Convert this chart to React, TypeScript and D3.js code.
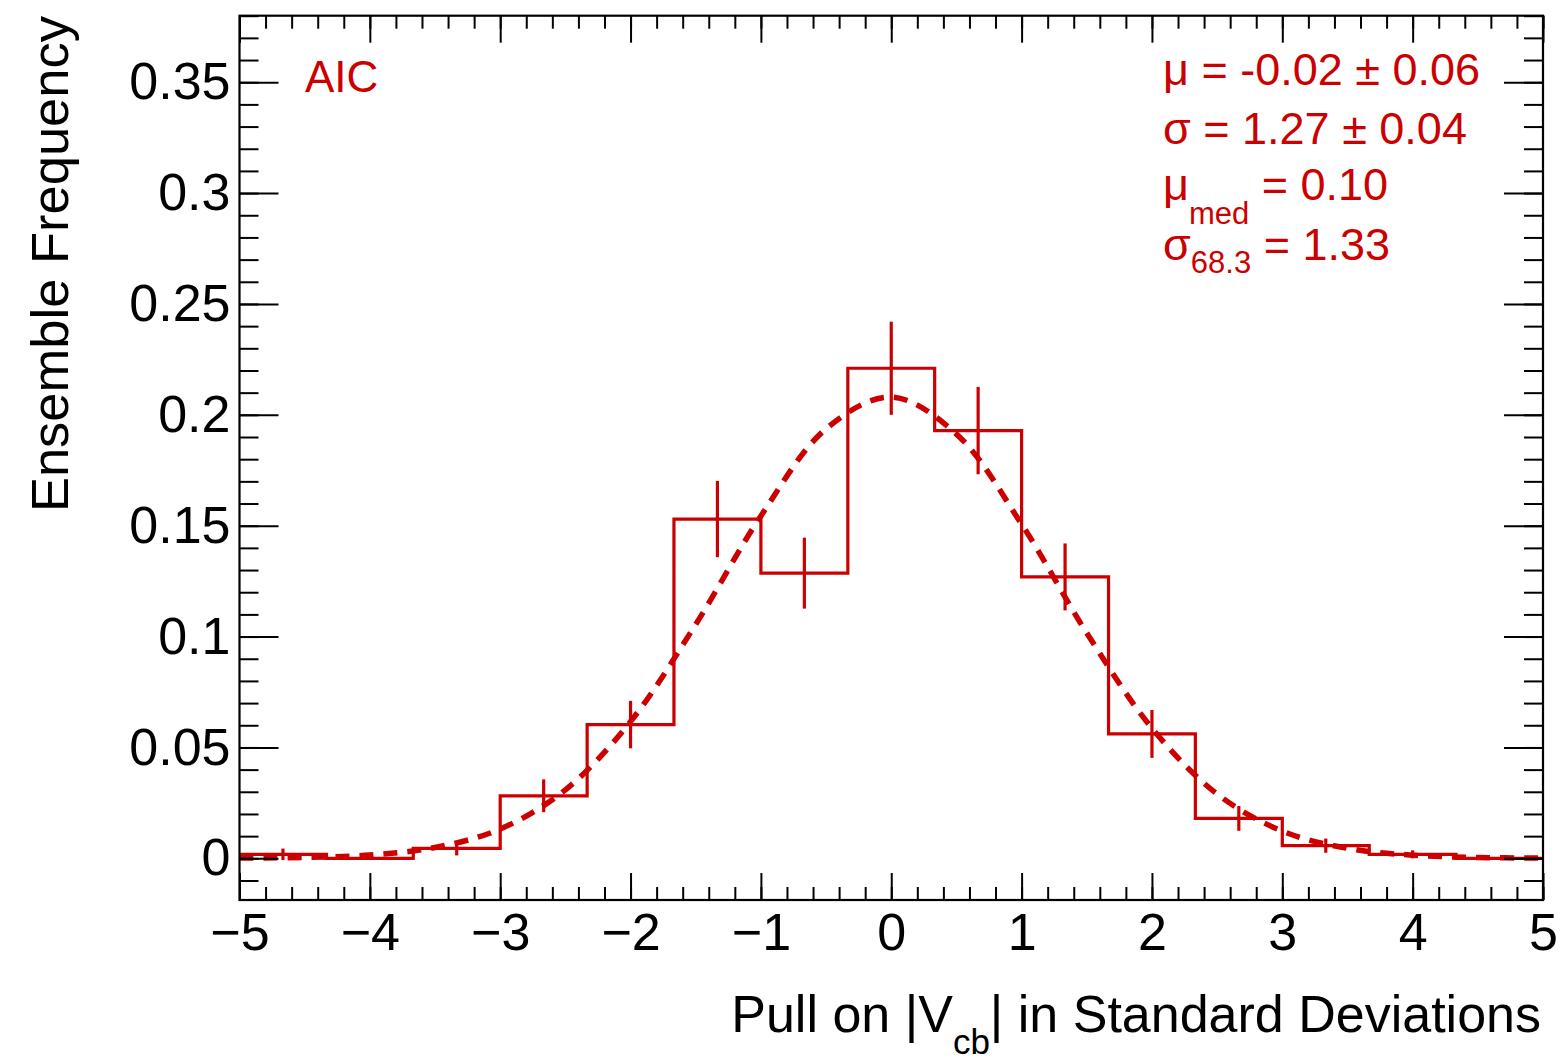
// App.tsx
import React, { useEffect, useRef } from 'react';
import * as d3 from 'd3';

// Histogram bins (pull in standard deviations)
const binEdges = [-5, -4.333, -3.667, -3, -2.333, -1.667, -1, -0.333, 0.333, 1, 1.667, 2.333, 3, 3.667, 4.333, 5];
const binValues = [0.0018, 0, 0.0045, 0.0282, 0.0603, 0.153, 0.1286, 0.221, 0.1929, 0.1269, 0.0561, 0.018, 0.0057, 0.0018, 0];
const binErrors = [0.0026, 0, 0.0032, 0.0074, 0.0107, 0.0172, 0.016, 0.021, 0.0197, 0.0151, 0.0108, 0.0056, 0.0032, 0.0018, 0];

// Gaussian fit curve
const fitX = [-5, -4.5, -4, -3.5, -3, -2.5, -2, -1.5, -1, -0.5, 0, 0.5, 1, 1.5, 2, 2.5, 3, 3.5, 4, 4.5, 5];
const fitY = [0.0001, 0.0004, 0.0015, 0.0049, 0.0132, 0.0309, 0.0617, 0.1055, 0.1544, 0.1937, 0.208, 0.1913, 0.1507, 0.1016, 0.0587, 0.029, 0.0123, 0.0045, 0.0014, 0.0004, 0.0001];

// Axis ticks
const xTicks = [-5, -4, -3, -2, -1, 0, 1, 2, 3, 4, 5];
const xTickLabels = ['\u22125', '\u22124', '\u22123', '\u22122', '\u22121', '0', '1', '2', '3', '4', '5'];
const yTicks = [0, 0.05, 0.1, 0.15, 0.2, 0.25, 0.3, 0.35];
const yTickLabels = ['0', '0.05', '0.1', '0.15', '0.2', '0.25', '0.3', '0.35'];

const RED = '#cc0000';
const FONT = '"Liberation Sans", Arial, Helvetica, sans-serif';

const App = () => {
    const svgRef = useRef<SVGSVGElement | null>(null);

    useEffect(() => {
        const svg = d3.select(svgRef.current);
        svg.selectAll('*').remove();

        const left = 239.5, right = 1543, top = 15.7, bottom = 900;

        const x = d3.scaleLinear().domain([-5, 5]).range([left, right]);
        const y = d3.scaleLinear().domain([-0.0188, 0.38]).range([bottom, top]);

        const plot = svg.append('g');

        // Histogram outline
        const pts: [number, number][] = [];
        binValues.forEach((v, i) => {
            pts.push([x(binEdges[i]), y(v)]);
            pts.push([x(binEdges[i + 1]), y(v)]);
        });
        plot.append('path')
            .attr('d', d3.line()(pts))
            .attr('fill', 'none')
            .attr('stroke', RED)
            .attr('stroke-width', 3.2);

        // Error bars at bin centers
        const errs = binValues.map((v, i) => ({
            c: (binEdges[i] + binEdges[i + 1]) / 2, v, e: binErrors[i]
        })).filter(d => d.e > 0);
        plot.selectAll('.err')
            .data(errs)
            .join('line')
            .attr('class', 'err')
            .attr('x1', d => x(d.c))
            .attr('x2', d => x(d.c))
            .attr('y1', d => y(d.v - d.e))
            .attr('y2', d => y(d.v + d.e))
            .attr('stroke', RED)
            .attr('stroke-width', 3.2);

        // Dashed fit
        const fitLine = d3.line<number>()
            .x((d, i) => x(fitX[i]))
            .y(d => y(d))
            .curve(d3.curveCatmullRom.alpha(0.5));
        plot.append('path')
            .attr('d', fitLine(fitY))
            .attr('fill', 'none')
            .attr('stroke', RED)
            .attr('stroke-width', 5.5)
            .attr('stroke-dasharray', '14 10');

        // Axes with inward ticks (major + minor on all four sides)
        const xMinor = d3.range(-50, 51, 2).map(d => d / 10);
        const yMinor = d3.range(-1, 39, 1).map(d => d / 100);

        const styleAxis = (g: any) => {
            g.select('.domain').remove();
            g.selectAll('line').attr('stroke', '#000').attr('stroke-width', 2);
            g.selectAll('text')
                .attr('font-family', FONT)
                .attr('font-size', 52)
                .attr('fill', '#000');
        };

        svg.append('g').attr('transform', `translate(0,${bottom})`)
            .call(d3.axisBottom(x).tickValues(xMinor).tickSize(-13).tickFormat(() => ''))
            .call(styleAxis);
        svg.append('g').attr('transform', `translate(0,${bottom})`)
            .call(d3.axisBottom(x).tickValues(xTicks).tickSize(-27).tickPadding(13)
                .tickFormat((d, i) => xTickLabels[i]))
            .call(styleAxis);
        svg.append('g').attr('transform', `translate(0,${top})`)
            .call(d3.axisTop(x).tickValues(xMinor).tickSize(-13).tickFormat(() => ''))
            .call(styleAxis);
        svg.append('g').attr('transform', `translate(0,${top})`)
            .call(d3.axisTop(x).tickValues(xTicks).tickSize(-27).tickFormat(() => ''))
            .call(styleAxis);

        svg.append('g').attr('transform', `translate(${left},0)`)
            .call(d3.axisLeft(y).tickValues(yMinor).tickSize(-19).tickFormat(() => ''))
            .call(styleAxis);
        svg.append('g').attr('transform', `translate(${left},0)`)
            .call(d3.axisLeft(y).tickValues(yTicks).tickSize(-39).tickPadding(9)
                .tickFormat((d, i) => yTickLabels[i]))
            .call(styleAxis);
        svg.append('g').attr('transform', `translate(${right},0)`)
            .call(d3.axisRight(y).tickValues(yMinor).tickSize(-19).tickFormat(() => ''))
            .call(styleAxis);
        svg.append('g').attr('transform', `translate(${right},0)`)
            .call(d3.axisRight(y).tickValues(yTicks).tickSize(-39).tickFormat(() => ''))
            .call(styleAxis);

        // Frame
        svg.append('rect')
            .attr('x', left).attr('y', top)
            .attr('width', right - left).attr('height', bottom - top)
            .attr('fill', 'none').attr('stroke', '#000').attr('stroke-width', 2.2);

        // Axis titles
        const xt = svg.append('text')
            .attr('x', 1541).attr('y', 1032)
            .attr('text-anchor', 'end')
            .attr('font-family', FONT).attr('font-size', 52).attr('fill', '#000');
        xt.append('tspan').text('Pull on |V');
        xt.append('tspan').attr('dy', 22).attr('font-size', 35).text('cb');
        xt.append('tspan').attr('dy', -22).text('| in Standard Deviations');

        svg.append('text')
            .attr('transform', 'translate(68,16) rotate(-90)')
            .attr('text-anchor', 'end')
            .attr('font-family', FONT).attr('font-size', 52.5).attr('fill', '#000')
            .text('Ensemble Frequency');

        // Labels
        svg.append('text')
            .attr('x', 305).attr('y', 92)
            .attr('font-family', FONT).attr('font-size', 44).attr('fill', RED)
            .text('AIC');

        const stat = svg.append('g')
            .attr('font-family', FONT).attr('font-size', 45).attr('fill', RED);
        stat.append('text').attr('x', 1163).attr('y', 85).text('\u03bc = -0.02 \u00b1 0.06');
        stat.append('text').attr('x', 1163).attr('y', 144).text('\u03c3 = 1.27 \u00b1 0.04');
        const t3 = stat.append('text').attr('x', 1163).attr('y', 200);
        t3.append('tspan').text('\u03bc');
        t3.append('tspan').attr('dy', 24).attr('font-size', 31).text('med');
        t3.append('tspan').attr('dy', -24).text(' = 0.10');
        const t4 = stat.append('text').attr('x', 1163).attr('y', 260);
        t4.append('tspan').text('\u03c3');
        t4.append('tspan').attr('dy', 13).attr('font-size', 31).text('68.3');
        t4.append('tspan').attr('dy', -13).text(' = 1.33');
    }, []);

    return (
        <svg
            ref={svgRef}
            width={1563}
            height={1063}
            style={{ position: 'absolute', left: 0, top: 0, background: '#fff' }}
        />
    );
};

export default App;
